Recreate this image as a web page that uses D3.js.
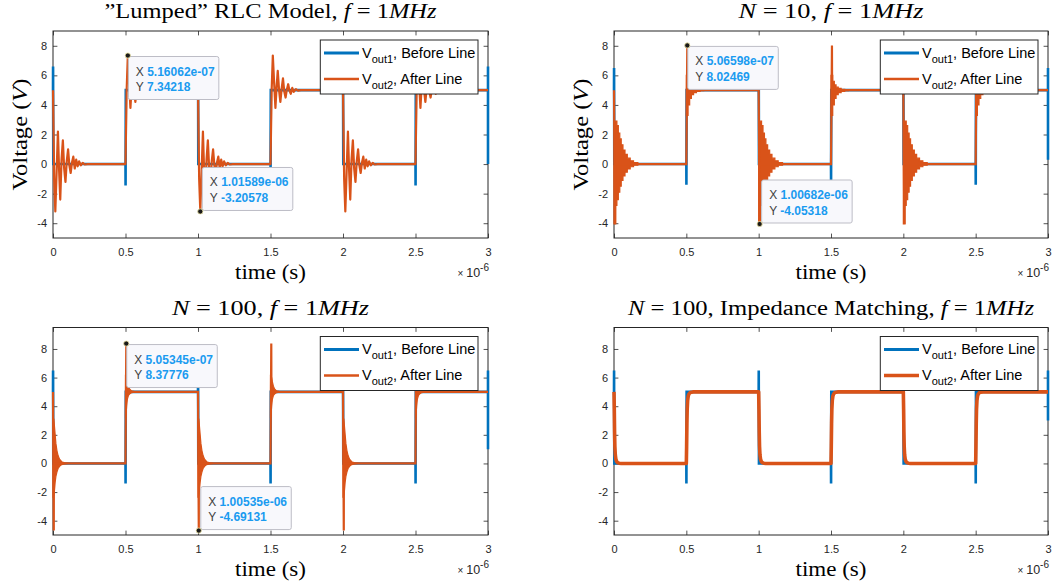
<!DOCTYPE html>
<html>
<head>
<meta charset="utf-8">
<script src="https://cdn.jsdelivr.net/npm/d3@7"></script>
<style>
  body { margin: 0; background: #fff; }
  svg { display: block; }
</style>
</head>
<body>
<svg id="chart" width="1061" height="588"></svg>
<script>
// Axis ticks (time in µs, shown with a ×10^-6 multiplier)
const xTicks = [0, 0.5, 1, 1.5, 2, 2.5, 3];
const yTicks = [-4, -2, 0, 2, 4, 6, 8];

// Switching edges of the 1 MHz square wave (µs)
const edgeTimes = [0, 0.5, 1, 1.5, 2, 2.5, 3];
const edgeKinds = ['fall', 'rise', 'fall', 'rise', 'fall', 'rise', 'fall'];

// Vout1 (before line): the kick reached at each edge, and the value of the last sample
const vout1KickLumped = [6.6, -1.45, 6.5, -0.2, 5, -1.45, 6.6];
const vout1KickN10 = [6.5, -1.4, 6.5, -1.1, 5, -1.4, 6.5];
const vout1KickN100 = [6.5, -1.4, 6.5, -1.4, 5, -1.4, 6.5];
const vout1KickMatched = [6.5, -1.4, 6.5, -1.4, 5, -1.4, 6.5];
const vout1End = [0, 0.3, 1.0, 3.0];

// Lumped RLC: Vout2 ringing after each edge (ns after edge, V)
const lumpedFallT = [0, 8, 16, 25, 34, 42, 50, 59, 68, 77, 86, 95, 104, 113, 122, 131, 140, 150, 160, 170, 180, 192, 205, 220, 240];
const lumpedFallV = [5, -1, -3.2, -0.5, 2.2, -0.4, -2.4, 0.3, 1.6, -0.3, -1.2, 0.2, 1.0, -0.1, -0.6, 0.1, 0.5, -0.3, 0.3, -0.15, 0.18, -0.08, 0.08, -0.03, 0];
const lumpedRiseT = [0, 8, 16, 25, 34, 42, 50, 59, 68, 77, 86, 95, 104, 113, 122, 131, 140, 150, 160, 175, 190, 210];
const lumpedRiseV = [0, 5, 7.34, 5.5, 3.8, 5.2, 6.3, 5.0, 4.2, 5.1, 5.8, 4.9, 4.5, 5.05, 5.4, 4.95, 4.75, 5.15, 4.88, 5.07, 4.97, 5];

// N = 10: first spike, then the envelope of the fast ringing (ns, V)
const n10Spike = { fall: [6.82, -4.05318], rise: [6.60, 8.02469] };
const n10FallT = [0, 12, 20, 30, 40, 50, 62, 76, 92, 112, 135, 165, 200];
const n10FallHi = [2.9, 2.9, 2.6, 2.1, 1.7, 1.3, 0.95, 0.65, 0.4, 0.22, 0.1, 0.04, 0];
const n10FallLo = [-4.05, -2.8, -2.4, -1.9, -1.5, -1.1, -0.8, -0.55, -0.33, -0.18, -0.08, -0.03, 0];
const n10RiseT = [0, 12, 23, 35, 50, 70, 95, 120];
const n10RiseHi = [6.0, 5.6, 5.35, 5.2, 5.12, 5.06, 5.02, 5];
const n10RiseLo = [3.3, 4.0, 4.45, 4.7, 4.83, 4.92, 4.97, 5];

// N = 100
const n100Spike = { fall: [5.35, -4.69131], rise: [5.35, 8.37776] };
const n100FallT = [0, 6, 10, 15, 20, 27, 35, 45, 60, 80, 105];
const n100FallHi = [3.2, 3.1, 2.6, 2.0, 1.4, 0.9, 0.55, 0.3, 0.12, 0.04, 0];
const n100FallLo = [-2.4, -2.2, -1.9, -1.3, -0.9, -0.6, -0.35, -0.2, -0.08, -0.03, 0];
const n100RiseT = [0, 3, 8, 13, 20, 28, 38, 50, 65];
const n100RiseHi = [6.2, 6.1, 6.0, 5.7, 5.4, 5.2, 5.1, 5.05, 5];
const n100RiseLo = [3.2, 3.3, 4.0, 4.5, 4.75, 4.85, 4.93, 4.97, 5];

// N = 100 with impedance matching: smooth edges
const matchedFallT = [0, 2, 4, 6, 9, 13, 18, 25, 35, 50];
const matchedFallV = [5, 3.8, 2.2, 1.2, 0.6, 0.3, 0.15, 0.06, 0.02, 0];
const matchedRiseT = [0, 2, 4, 6, 9, 13, 18, 25, 35, 50];
const matchedRiseV = [0, 1.2, 2.8, 3.8, 4.4, 4.7, 4.85, 4.94, 4.98, 5];

// Data tips (s, V)
const lumpedTipX = [5.16062e-07, 1.01589e-06];
const lumpedTipY = [7.34218, -3.20578];
const n10TipX = [5.06598e-07, 1.00682e-06];
const n10TipY = [8.02469, -4.05318];
const n100TipX = [5.05345e-07, 1.00535e-06];
const n100TipY = [8.37776, -4.69131];

const legendLabels = [['out1', 'Before Line'], ['out2', 'After Line']];

const blue = '#0072BD';
const orange = '#D95319';
const axisColor = '#262626';
const fontSans = '"Liberation Sans", Arial, Helvetica, sans-serif';
const fontSerif = '"Liberation Serif", "Times New Roman", serif';

const panels = [
  {
    title: [['”Lumped” RLC Model, ', false], ['f', true], [' = 1', false], ['MHz', true]],
    titleWidth: 332,
    rect: { l: 53, t: 31, r: 488, b: 238 }, yDomain: [-5, 9], yLabel: true,
    kicks: vout1KickLumped, end: vout1End[0], orangeWidth: 2.2,
    ring: { fallT: lumpedFallT, fallV: lumpedFallV, riseT: lumpedRiseT, riseV: lumpedRiseV },
    tipX: lumpedTipX, tipY: lumpedTipY
  },
  {
    title: [['N', true], [' = 10, ', false], ['f', true], [' = 1', false], ['MHz', true]],
    titleWidth: 185,
    rect: { l: 614, t: 31, r: 1048, b: 238 }, yDomain: [-5, 9], yLabel: true,
    kicks: vout1KickN10, end: vout1End[1], orangeWidth: 2.2,
    band: { spike: n10Spike, fallT: n10FallT, fallHi: n10FallHi, fallLo: n10FallLo,
            riseT: n10RiseT, riseHi: n10RiseHi, riseLo: n10RiseLo, curve: d3.curveStepAfter },
    tipX: n10TipX, tipY: n10TipY
  },
  {
    title: [['N', true], [' = 100, ', false], ['f', true], [' = 1', false], ['MHz', true]],
    titleWidth: 197,
    rect: { l: 53, t: 327.5, r: 488, b: 535 }, yDomain: [-5, 9.5], yLabel: false,
    kicks: vout1KickN100, end: vout1End[2], orangeWidth: 2.2,
    band: { spike: n100Spike, fallT: n100FallT, fallHi: n100FallHi, fallLo: n100FallLo,
            riseT: n100RiseT, riseHi: n100RiseHi, riseLo: n100RiseLo, curve: d3.curveLinear },
    tipX: n100TipX, tipY: n100TipY
  },
  {
    title: [['N', true], [' = 100, Impedance Matching, ', false], ['f', true], [' = 1', false], ['MHz', true]],
    titleWidth: 406,
    rect: { l: 614, t: 327.5, r: 1048, b: 535 }, yDomain: [-5, 9.5], yLabel: false,
    kicks: vout1KickMatched, end: vout1End[3], orangeWidth: 3.6,
    ring: { fallT: matchedFallT, fallV: matchedFallV, riseT: matchedRiseT, riseV: matchedRiseV },
    tipX: [], tipY: []
  }
];

const svg = d3.select('#chart');

// Vout1: square wave with a short kick at each edge
function buildVout1(kicks, endValue) {
  const pts = [];
  edgeTimes.forEach((T, i) => {
    const fall = edgeKinds[i] === 'fall';
    const last = i === edgeTimes.length - 1;
    pts.push([T, fall ? 5 : 0]);
    pts.push([last ? T : T + 0.0005, kicks[i]]);
    pts.push([last ? T : T + 0.002, last ? endValue : (fall ? 0 : 5)]);
  });
  return pts;
}

// Vout2 drawn as a resolved line
function buildRinging(ring) {
  const pts = [];
  edgeTimes.forEach((T, i) => {
    if (i === edgeTimes.length - 1) { pts.push([T, 5]); return; }
    const fall = edgeKinds[i] === 'fall';
    const ts = fall ? ring.fallT : ring.riseT;
    const vs = fall ? ring.fallV : ring.riseV;
    ts.forEach((dt, j) => pts.push([T + dt / 1000, vs[j]]));
  });
  return pts;
}

// Vout2 main trace for the dense cases (spike + flat levels)
function buildSpikeLine(band) {
  const pts = [];
  edgeTimes.forEach((T, i) => {
    if (i === edgeTimes.length - 1) { pts.push([T, 5]); return; }
    const fall = edgeKinds[i] === 'fall';
    const [sd, sv] = fall ? band.spike.fall : band.spike.rise;
    pts.push([T, fall ? 5 : 0], [T + sd / 1000, sv], [T + (sd + 1) / 1000, fall ? 0 : 5]);
  });
  return pts;
}

function buildBands(band) {
  const out = [];
  edgeTimes.forEach((T, i) => {
    if (i === edgeTimes.length - 1) return;
    const fall = edgeKinds[i] === 'fall';
    const ts = fall ? band.fallT : band.riseT;
    const hi = fall ? band.fallHi : band.riseHi;
    const lo = fall ? band.fallLo : band.riseLo;
    out.push(ts.map((dt, j) => ({ t: T + dt / 1000, hi: hi[j], lo: lo[j] })));
  });
  return out;
}

function fmtX(v) {
  const [m, e] = v.toExponential(5).split('e');
  const sign = e[0] === '-' ? '-' : '+';
  const digits = e.replace(/[+-]/, '').padStart(2, '0');
  return `${m}e${sign}${digits}`;
}

panels.forEach((p) => {
  const { l, t, r, b } = p.rect;
  const x = d3.scaleLinear().domain([0, 3]).range([l, r]);
  const y = d3.scaleLinear().domain(p.yDomain).range([b, t]);
  const g = svg.append('g');

  // Title
  const title = g.append('text')
    .attr('x', (l + r) / 2)
    .attr('y', t - 12.7)
    .attr('text-anchor', 'middle')
    .attr('font-family', fontSerif)
    .attr('font-size', 20)
    .attr('fill', '#000')
    .attr('textLength', p.titleWidth)
    .attr('lengthAdjust', 'spacingAndGlyphs')
    .style('white-space', 'pre');
  p.title.forEach(([s, it]) => {
    title.append('tspan').attr('font-style', it ? 'italic' : 'normal').text(s);
  });

  // Axes box and ticks (inside, on all four sides)
  const styleAxis = (sel) => {
    sel.attr('color', axisColor).attr('font-family', fontSans).attr('font-size', 11);
    sel.select('.domain').remove();
    sel.selectAll('.tick line').attr('stroke-width', 0.8);
    sel.selectAll('.tick text').attr('fill', axisColor);
  };
  g.append('g').attr('transform', `translate(0,${b})`)
    .call(d3.axisBottom(x).tickValues(xTicks).tickSize(-4.4).tickPadding(10).tickFormat((d) => String(d)))
    .call(styleAxis);
  g.append('g').attr('transform', `translate(0,${t})`)
    .call(d3.axisTop(x).tickValues(xTicks).tickSize(-4.4).tickFormat(''))
    .call(styleAxis);
  g.append('g').attr('transform', `translate(${l},0)`)
    .call(d3.axisLeft(y).tickValues(yTicks).tickSize(-4.4).tickPadding(6).tickFormat((d) => String(d)))
    .call(styleAxis);
  g.append('g').attr('transform', `translate(${r},0)`)
    .call(d3.axisRight(y).tickValues(yTicks).tickSize(-4.4).tickFormat(''))
    .call(styleAxis);
  g.append('rect')
    .attr('x', l).attr('y', t).attr('width', r - l).attr('height', b - t)
    .attr('fill', 'none').attr('stroke', axisColor).attr('stroke-width', 1);

  // Axis labels
  g.append('text')
    .attr('x', (l + r) / 2).attr('y', b + 41)
    .attr('text-anchor', 'middle')
    .attr('font-family', fontSerif).attr('font-size', 20)
    .attr('textLength', 71).attr('lengthAdjust', 'spacingAndGlyphs')
    .text('time (s)');
  const mult = g.append('text')
    .attr('x', r + 1).attr('y', b + 38.5)
    .attr('text-anchor', 'end')
    .attr('font-family', fontSans).attr('font-size', 12.5)
    .attr('fill', axisColor);
  mult.append('tspan').attr('font-size', 10).text('× ');
  mult.append('tspan').text('10');
  mult.append('tspan').attr('dy', -6).attr('font-size', 10).text('-6');

  if (p.yLabel) {
    const yl = g.append('text')
      .attr('transform', `translate(${l - 26.5},${(t + b) / 2}) rotate(-90)`)
      .attr('text-anchor', 'middle')
      .attr('font-family', fontSerif).attr('font-size', 21)
      .attr('textLength', 112).attr('lengthAdjust', 'spacingAndGlyphs')
      .style('white-space', 'pre');
    yl.append('tspan').text('Voltage (');
    yl.append('tspan').attr('font-style', 'italic').text('V');
    yl.append('tspan').text(')');
  }

  const line = d3.line().x((d) => x(d[0])).y((d) => y(d[1]));

  // Vout1
  g.append('path')
    .datum(buildVout1(p.kicks, p.end))
    .attr('d', line)
    .attr('fill', 'none').attr('stroke', blue).attr('stroke-width', 2.6);

  // Vout2
  if (p.ring) {
    g.append('path')
      .datum(buildRinging(p.ring))
      .attr('d', line)
      .attr('fill', 'none').attr('stroke', orange)
      .attr('stroke-width', p.orangeWidth).attr('stroke-linejoin', 'round');
  } else {
    const area = d3.area()
      .curve(p.band.curve)
      .x((d) => x(d.t)).y0((d) => y(d.lo)).y1((d) => y(d.hi));
    buildBands(p.band).forEach((seg) => {
      g.append('path').datum(seg).attr('d', area)
        .attr('fill', orange).attr('stroke', orange).attr('stroke-width', 1.2);
    });
    g.append('path')
      .datum(buildSpikeLine(p.band))
      .attr('d', line)
      .attr('fill', 'none').attr('stroke', orange).attr('stroke-width', p.orangeWidth);
  }

  // Legend
  const lw = 157.7, lh = 54;
  const lx = r - 10 - lw, ly = t + 9;
  const lg = g.append('g').attr('transform', `translate(${lx},${ly})`);
  lg.append('rect').attr('width', lw).attr('height', lh)
    .attr('fill', '#fff').attr('stroke', axisColor).attr('stroke-width', 1);
  legendLabels.forEach(([sub, label], i) => {
    const yy = 13 + i * 26;
    lg.append('line')
      .attr('x1', 3.7).attr('x2', 38.7).attr('y1', yy).attr('y2', yy)
      .attr('stroke', i === 0 ? blue : orange)
      .attr('stroke-width', i === 0 ? 2.8 : (p.orangeWidth > 3 ? 3.4 : 2.6));
    const tx = lg.append('text')
      .attr('x', 41.7).attr('y', yy + 4.5)
      .attr('font-family', fontSans).attr('font-size', 14.5).attr('fill', '#000')
      .style('white-space', 'pre');
    tx.append('tspan').text('V');
    tx.append('tspan').attr('dy', 5).attr('font-size', 11).text(sub);
    tx.append('tspan').attr('dy', -5).text(`, ${label}`);
  });

  // Data tips
  p.tipX.forEach((xv, i) => {
    const yv = p.tipY[i];
    const px = x(xv * 1e6), py = y(yv);
    const below = i === 0;
    const bw = 90.5, bh = 43;
    const bx = px + (below ? 0.5 : 2);
    const by = below ? py + 1 : py - 1 - bh;
    g.append('rect')
      .attr('x', bx).attr('y', by).attr('width', bw).attr('height', bh).attr('rx', 2)
      .attr('fill', '#f8f8fc').attr('stroke', '#bdbdc6').attr('stroke-width', 1);
    [['X', fmtX(xv)], ['Y', String(yv)]].forEach(([k, v], j) => {
      const tt = g.append('text')
        .attr('x', bx + 7.5).attr('y', by + 19 + j * 15.5)
        .attr('font-family', fontSans).attr('font-size', 12)
        .style('white-space', 'pre');
      tt.append('tspan').attr('fill', '#404040').text(`${k} `);
      tt.append('tspan').attr('fill', '#1a9bf0').attr('font-weight', 'bold').text(v);
    });
    g.append('circle')
      .attr('cx', px).attr('cy', py).attr('r', 2.6)
      .attr('fill', '#1a1a1a').attr('stroke', '#efe6a6').attr('stroke-width', 0.8);
  });
});
</script>
</body>
</html>
